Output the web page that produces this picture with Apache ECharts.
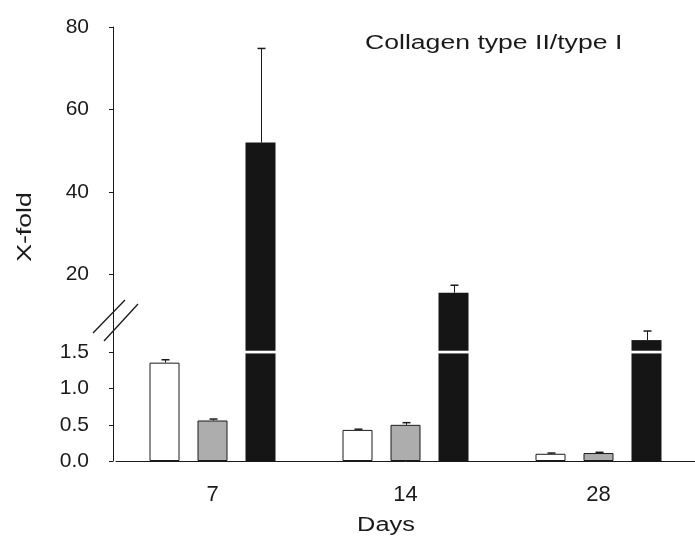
<!DOCTYPE html>
<html><head><meta charset="utf-8">
<script src="https://cdn.jsdelivr.net/npm/echarts@6/dist/echarts.min.js"></script>
<style>html,body{margin:0;padding:0;background:#fff}#c{width:695px;height:543px}</style>
</head><body><div id="c"></div>
<script>
const categories = ['7', '14', '28'];
const whiteVals = [1.36, 0.43, 0.10];
const whiteErr  = [1.40, 0.44, 0.11];
const grayVals  = [0.56, 0.50, 0.11];
const grayErr   = [0.58, 0.53, 0.12];
const blackVals = [52.0, 15.6, 4.1];
const blackErr  = [74.8, 17.4, 6.3];
const lowerTicks = [0, 0.5, 1.0, 1.5];
const upperTicks = [20, 40, 60, 80];
const titleText = 'Collagen type II/type I';
const yName = 'X-fold';
const xName = 'Days';

const chart = echarts.init(document.getElementById('c'), null, {renderer: 'canvas'});
const FONT = '"Liberation Sans", Arial, sans-serif';
const INK = '#1a1a1a';
const BW = 30, GAPPX = 18, OFF = BW + GAPPX;
const lowerMax = 1.535, breakAt = 1.49, breakW = 0.035;
const upperMin = 1.7;

function errSeries(xi, yi, tops, bases, off) {
  return {
    type: 'custom', xAxisIndex: xi, yAxisIndex: yi, silent: true, z: 5,
    data: tops.map((t, i) => [i, t, bases[i]]),
    renderItem: function (params, api) {
      const p1 = api.coord([api.value(0), api.value(1)]);
      const p0 = api.coord([api.value(0), api.value(2)]);
      const x = Math.round(p0[0] + off) + 0.5;
      return {type: 'group', children: [
        {type: 'line', shape: {x1: x, y1: p0[1], x2: x, y2: p1[1]}, style: {stroke: INK, lineWidth: 1}},
        {type: 'line', shape: {x1: x - 4, y1: p1[1], x2: x + 4, y2: p1[1]}, style: {stroke: INK, lineWidth: 1.5}}
      ]};
    }
  };
}

const barBase = {type: 'bar', barWidth: BW, barGap: (GAPPX / BW * 100) + '%', silent: true};

const option = {
  animation: false,
  backgroundColor: '#fff',
  grid: [
    {left: 116, right: 0, top: 350, bottom: 82},
    {left: 116, right: 0, top: 27, bottom: 193}
  ],
  xAxis: [
    {type: 'category', gridIndex: 0, data: categories,
     axisLine: {lineStyle: {color: INK, width: 1}}, axisTick: {show: false},
     axisLabel: {fontFamily: FONT, fontSize: 22, color: INK, margin: 23}},
    {type: 'category', gridIndex: 1, data: categories, show: false}
  ],
  yAxis: [
    {type: 'value', gridIndex: 0, min: 0, max: lowerMax, offset: 3,
     splitLine: {show: false},
     axisLine: {show: true, lineStyle: {color: INK, width: 1}},
     axisTick: {show: true, length: 4, customValues: lowerTicks, lineStyle: {color: INK}},
     axisLabel: {customValues: lowerTicks, formatter: v => v.toFixed(1), fontFamily: FONT, fontSize: 21, color: INK, margin: 24}},
    {type: 'value', gridIndex: 1, min: upperMin, max: 80, offset: 3,
     splitLine: {show: false},
     axisLine: {show: true, lineStyle: {color: INK, width: 1}},
     axisTick: {show: true, length: 4, customValues: upperTicks, lineStyle: {color: INK}},
     axisLabel: {customValues: upperTicks, fontFamily: FONT, fontSize: 21, color: INK, margin: 24}}
  ],
  series: [
    Object.assign({}, barBase, {name: 'white', xAxisIndex: 0, yAxisIndex: 0, data: whiteVals,
      itemStyle: {color: '#fff', borderColor: INK, borderWidth: 1}}),
    Object.assign({}, barBase, {name: 'gray', xAxisIndex: 0, yAxisIndex: 0, data: grayVals,
      itemStyle: {color: '#adadad', borderColor: INK, borderWidth: 1}}),
    Object.assign({}, barBase, {name: 'blackLow', xAxisIndex: 0, yAxisIndex: 0, stack: 'b',
      data: blackVals.map(v => Math.min(v, breakAt)),
      itemStyle: {color: '#151515'}}),
    Object.assign({}, barBase, {name: 'break', xAxisIndex: 0, yAxisIndex: 0, stack: 'b',
      data: blackVals.map(v => v > lowerMax ? breakW : 0),
      itemStyle: {color: '#fff'}}),
    Object.assign({}, barBase, {name: 'blackTop', xAxisIndex: 0, yAxisIndex: 0, stack: 'b',
      data: blackVals,
      itemStyle: {color: '#151515'}}),
    Object.assign({}, barBase, {name: 'u1', xAxisIndex: 1, yAxisIndex: 1, data: ['-', '-', '-']}),
    Object.assign({}, barBase, {name: 'u2', xAxisIndex: 1, yAxisIndex: 1, data: ['-', '-', '-']}),
    Object.assign({}, barBase, {name: 'blackUp', xAxisIndex: 1, yAxisIndex: 1, data: blackVals,
      itemStyle: {color: '#151515'}}),
    errSeries(0, 0, whiteErr, whiteVals, -OFF),
    errSeries(0, 0, grayErr, grayVals, 0),
    errSeries(1, 1, blackErr, blackVals, OFF)
  ],
  graphic: [
    {type: 'text', x: 365, y: 43, scaleX: 1.33,
     style: {text: titleText, fontFamily: FONT, fontSize: 20, fill: INK, align: 'left', verticalAlign: 'middle'}},
    {type: 'text', x: 25, y: 227, rotation: Math.PI / 2, scaleX: 1.33,
     style: {text: yName, fontFamily: FONT, fontSize: 20, fill: INK, align: 'center', verticalAlign: 'middle'}},
    {type: 'text', x: 386, y: 525, scaleX: 1.27,
     style: {text: xName, fontFamily: FONT, fontSize: 20, fill: INK, align: 'center', verticalAlign: 'middle'}},
    {type: 'line', shape: {x1: 93, y1: 333, x2: 125, y2: 300}, style: {stroke: INK, lineWidth: 1.3}},
    {type: 'line', shape: {x1: 104, y1: 341, x2: 138, y2: 304}, style: {stroke: INK, lineWidth: 1.3}}
  ]
};
chart.setOption(option);
</script>
</body></html>
